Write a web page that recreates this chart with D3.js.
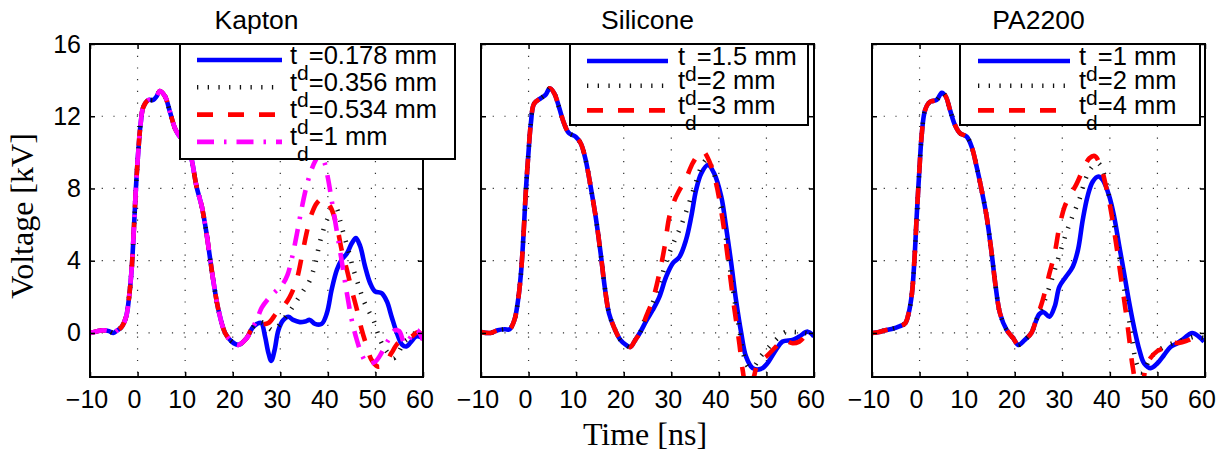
<!DOCTYPE html>
<html>
<head>
<meta charset="utf-8">
<script src="https://cdn.jsdelivr.net/npm/d3@7"></script>
<style>
  body { margin: 0; background: #fff; }
  svg { display: block; }
</style>
</head>
<body>
<svg id="fig" width="1225" height="455"></svg>
<script>
// ---- axis ticks ----
const xTicks = [-10, 0, 10, 20, 30, 40, 50, 60];
const yTicks = [0, 4, 8, 12, 16];

// ---- Kapton: shared main pulse, then each thickness' tail [t (ns), V (kV)] ----
const kaptonPulse = [[-10,0.0],[-8.5,0.1],[-7.2,0.15],[-6,0.1],[-5.1,0.0],[-4.2,0.15],[-3.3,0.35],[-2.4,0.9],[-1.7,2.2],[-1.2,3.7],[-0.75,5.9],[-0.33,8.1],[0.16,10.1],[0.65,11.6],[1.2,12.5],[2.26,12.9],[3.3,12.9],[4.0,13.1],[4.7,13.4],[5.77,13.1],[6.8,12.25],[7.87,11.33],[8.9,10.87],[10.0,10.7],[11.2,9.8],[12.4,8.1],[13.5,7.0],[14.5,5.5],[15.2,4.2],[15.9,2.93],[17.0,1.27],[18.4,0.0],[19.8,-0.48],[21.2,-0.66],[22.9,-0.3],[24.2,0.3]];
const kapton178 = [[25.1,0.5],[26.0,0.55],[26.8,-0.2],[27.5,-1.1],[28.1,-1.55],[28.8,-0.95],[29.6,0.15],[30.6,0.7],[31.7,0.9],[32.7,0.72],[34.1,0.6],[35.2,0.63],[36.2,0.72],[37.3,0.5],[38.7,0.5],[39.8,1.1],[40.8,2.4],[41.9,3.5],[42.9,4.05],[44.0,4.4],[45.0,4.95],[45.9,5.25],[46.8,4.8],[47.8,3.7],[48.9,2.75],[49.9,2.3],[51.3,2.2],[52.4,1.75],[53.4,0.9],[54.5,0.0],[55.6,-0.65],[56.5,-0.75],[57.6,-0.45],[58.5,-0.2],[59.2,-0.2],[60,-0.3]];
const kapton356 = [[25.5,0.6],[26.5,0.55],[27.5,0.3],[28.5,0.15],[29.5,0.35],[30.5,0.7],[32,1.2],[33.5,1.8],[35,2.4],[36.2,2.9],[37.3,3.8],[38.3,5.0],[39.3,5.9],[40.2,6.5],[41.0,7.0],[41.8,6.9],[42.5,6.3],[43.3,5.5],[44.4,4.5],[45.4,3.5],[46.5,2.6],[47.5,1.8],[48.6,1.2],[49.6,0.7],[51.0,-0.4],[52.3,-1.0],[53.8,-1.4],[55,-1.0],[56,-0.5],[57,-0.3],[58.5,0.0],[60,-0.2]];
const kapton534 = [[25.7,0.45],[27.5,0.55],[29.2,1.1],[30.6,1.45],[32.0,2.0],[33.4,2.9],[34.5,4.2],[35.5,5.5],[36.6,6.6],[37.7,7.2],[39.0,7.45],[40.5,7.0],[41.9,5.9],[42.9,4.6],[44.0,3.5],[45.0,2.4],[46.1,1.3],[47.1,0.2],[48.2,-0.75],[49.2,-1.5],[50.6,-1.87],[52.0,-1.7],[53.4,-1.1],[54.8,-0.55],[56.2,-0.4],[57.6,-0.2],[59,0.05],[60,-0.2]];
const kapton1000 = [[25.1,0.75],[26.1,1.4],[27.5,1.9],[29,2.3],[30.5,2.7],[31.5,3.2],[32.5,4.2],[33.5,5.5],[34.5,6.9],[35.5,8.1],[36.5,9.0],[37.5,9.6],[38.3,9.9],[39.2,9.5],[40.0,8.6],[40.8,7.35],[41.9,5.6],[42.9,4.0],[44.0,2.2],[45.0,0.75],[46.1,-0.4],[47.3,-1.3],[48.3,-1.68],[49.9,-1.6],[51.3,-1.1],[52.7,-0.4],[54.1,0.15],[55,0.1],[56.2,-0.6],[57.5,-0.2],[58.7,0.15],[60,-0.4]];
const kaptonLabels = ["0.178 mm", "0.356 mm", "0.534 mm", "1 mm"];

// ---- Silicone ----
const siliconePulse = [[-10,0.05],[-8,0.0],[-6.5,0.15],[-5,0.2],[-4,0.2],[-3.0,0.7],[-2.3,1.64],[-1.6,3.3],[-1.05,5.5],[-0.57,7.9],[-0.08,9.76],[0.48,11.6],[1.17,12.7],[2.6,13.0],[3.6,13.2],[4.46,13.55],[5.4,13.27],[6.4,12.5],[7.46,11.6],[8.5,11.06],[9.9,10.87],[10.96,10.5],[12.0,9.58],[13.05,8.1],[14.1,6.44],[15.15,4.41],[16.0,2.56],[16.9,1.09],[17.9,0.35],[19.3,-0.39],[20.4,-0.65],[21.4,-0.78],[22.4,-0.4],[23.5,0.05]];
const silicone15 = [[24.8,0.7],[26.1,1.27],[27.5,2.0],[28.9,3.1],[30.3,3.85],[31.7,4.2],[33.1,5.15],[34.2,6.44],[35.2,7.9],[36.3,8.84],[37.7,9.3],[39.0,8.84],[40.5,7.55],[41.5,5.9],[42.6,3.85],[43.6,1.83],[44.7,0.0],[45.7,-1.3],[47.1,-1.95],[48.8,-2.0],[50.2,-1.68],[52.0,-0.94],[53.4,-0.48],[55.5,-0.39],[56.9,-0.2],[58.7,0.07],[60,-0.2]];
const silicone20 = [[24.5,0.8],[26,1.6],[27.5,2.7],[29,4.0],[30.5,5.0],[32,5.9],[33.5,7.0],[35,8.2],[36.5,9.3],[37.5,9.6],[38.5,9.2],[39.5,8.3],[40.8,6.6],[42,4.2],[43.2,2.0],[44.3,0.2],[45.3,-1.3],[46.3,-1.9],[47.5,-1.8],[48.5,-1.4],[50.6,-0.76],[52.7,-0.2],[54.1,0.05],[56,0.05],[58,0.0],[60,-0.1]];
const silicone30 = [[24.7,0.9],[26.1,1.83],[27.5,3.3],[28.6,4.78],[29.6,6.44],[30.7,7.36],[31.7,7.9],[33.1,8.56],[34.5,9.4],[35.9,9.95],[36.7,10.05],[38.0,9.5],[39.4,8.3],[40.8,6.26],[42.2,3.5],[43.2,1.46],[44.3,-0.57],[45.0,-2.05],[45.8,-3.0],[46.6,-3.1],[47.4,-2.4],[48.2,-1.68],[50.0,-1.3],[52.0,-0.76],[53.4,-0.39],[55.5,-0.57],[56.9,-0.48],[58.5,-0.1],[60,0.1]];
const siliconeLabels = ["1.5 mm", "2 mm", "3 mm"];

// ---- PA2200 ----
const pa2200Pulse = [[-10,0.0],[-8.5,0.05],[-7.2,0.15],[-5.5,0.25],[-4.4,0.35],[-3.0,0.54],[-2.3,1.09],[-1.6,2.2],[-1.05,4.2],[-0.57,6.63],[-0.08,8.84],[0.48,11.06],[1.17,12.35],[2.2,12.8],[3.6,12.9],[4.67,13.3],[5.5,13.1],[6.4,12.35],[7.46,11.5],[8.5,11.06],[9.9,10.87],[10.96,10.3],[12.0,9.2],[13.05,7.9],[14.1,6.44],[15.15,4.41],[16.0,2.56],[16.9,1.09],[18.3,0.17],[19.7,-0.3],[20.75,-0.66],[22.1,-0.39],[23.5,0.0]];
const pa2200_10 = [[24.3,0.54],[25.2,1.05],[26.1,1.15],[27.3,0.9],[28.4,1.46],[29.4,2.56],[30.8,3.12],[32.2,3.67],[33.3,4.6],[34.3,6.26],[35.3,7.55],[36.4,8.38],[37.6,8.66],[38.5,8.47],[39.9,7.55],[40.9,6.44],[42.0,4.78],[43.0,3.3],[44.1,1.64],[45.2,0.17],[46.2,-0.94],[47.2,-1.68],[48.6,-1.95],[50.0,-1.68],[51.4,-1.22],[52.8,-0.76],[54.2,-0.57],[55.6,-0.3],[57.3,0.0],[58.7,-0.2],[59.8,-0.48]];
const pa2200_20 = [[24.5,0.7],[26,1.6],[27.5,2.7],[29,4.0],[30.8,5.5],[32.2,6.5],[33.6,7.4],[35.0,8.6],[36.3,9.2],[37.5,9.4],[38.5,9.0],[39.5,8.0],[40.5,6.6],[41.5,5.0],[42.5,3.4],[43.5,1.6],[44.5,0.0],[45.5,-1.6],[46.5,-2.2],[47.5,-1.9],[48.5,-1.4],[50,-1.0],[52,-0.7],[54,-0.5],[56,-0.35],[58,-0.2],[60,-0.3]];
const pa2200_40 = [[24.5,0.72],[25.9,1.83],[27.3,3.3],[28.4,4.41],[29.4,5.9],[30.5,7.0],[31.5,7.55],[32.9,8.2],[34.3,9.0],[35.7,9.67],[36.8,9.8],[38.1,9.2],[39.2,8.1],[40.2,6.8],[41.3,4.97],[42.3,3.12],[43.4,1.09],[44.1,-0.39],[44.8,-1.87],[45.6,-2.8],[46.6,-3.0],[47.5,-2.0],[48.5,-1.4],[50.0,-1.0],[51.5,-0.8],[52.5,-0.55],[54.5,-0.55],[56.5,-0.4],[58.5,-0.2],[60,-0.3]];
const pa2200Labels = ["1 mm", "2 mm", "4 mm"];

const titles = ["Kapton", "Silicone", "PA2200"];

// ---- line styles (drawing order: solid, dotted, dashed, dash-dot) ----
const styles = [
  { color: "#0000ff", dash: null,           width: 4.6 },
  { color: "#111111", dash: "1.3,9.4",      width: 4.6 },
  { color: "#ff0000", dash: "16,15",        width: 4.6 },
  { color: "#ff00ff", dash: "17,10,2.5,10", width: 4.6 }
];

const panels = [
  { title: titles[0], labels: kaptonLabels,
    series: [kaptonPulse.concat(kapton178), kaptonPulse.concat(kapton356), kaptonPulse.concat(kapton534), kaptonPulse.concat(kapton1000)],
    left: 90, legend: { x: 90, w: 275, h: 115, sx0: 107, sx1: 192, tx: 200, row0: 60, rowStep: 27.3 } },
  { title: titles[1], labels: siliconeLabels,
    series: [siliconePulse.concat(silicone15), siliconePulse.concat(silicone20), siliconePulse.concat(silicone30)],
    left: 481, legend: { x: 89, w: 238, h: 81, sx0: 106, sx1: 187, tx: 197, row0: 61, rowStep: 24.7 } },
  { title: titles[2], labels: pa2200Labels,
    series: [pa2200Pulse.concat(pa2200_10), pa2200Pulse.concat(pa2200_20), pa2200Pulse.concat(pa2200_40)],
    left: 872, legend: { x: 88, w: 240, h: 81, sx0: 106, sx1: 198, tx: 207, row0: 61, rowStep: 24.7 } }
];

const plotTop = 44, plotW = 333, plotH = 333;
const svg = d3.select("#fig");
svg.append("rect").attr("width", 1225).attr("height", 455).attr("fill", "#fff");

const x = d3.scaleLinear().domain([-10, 60]).range([0, plotW]);
const y = d3.scaleLinear().domain([-2.44, 16]).range([plotH, 0]);
const sans = "'Liberation Sans', Arial, Helvetica, sans-serif";
const serif = "'Liberation Serif', 'Times New Roman', serif";

panels.forEach((p, pi) => {
  const g = svg.append("g").attr("transform", `translate(${p.left},${plotTop})`);
  const clipId = "clip" + pi;
  g.append("clipPath").attr("id", clipId)
    .append("rect").attr("width", plotW).attr("height", plotH);

  // dotted grid
  const grid = g.append("g").attr("stroke", "#333").attr("stroke-width", 1.2)
    .attr("stroke-dasharray", "1.2,10.5");
  grid.selectAll(".gx").data(xTicks.slice(1, -1)).join("line")
    .attr("x1", d => x(d)).attr("x2", d => x(d)).attr("y1", 0).attr("y2", plotH);
  grid.selectAll(".gy").data(yTicks.filter(d => d < 16)).join("line")
    .attr("y1", d => y(d)).attr("y2", d => y(d)).attr("x1", 0).attr("x2", plotW);

  // curves
  const line = d3.line().x(d => x(d[0])).y(d => y(d[1])).curve(d3.curveCatmullRom.alpha(0.5));
  const curves = g.append("g").attr("clip-path", `url(#${clipId})`);
  p.series.forEach((s, i) => {
    const st = styles[i];
    curves.append("path").datum(s).attr("d", line)
      .attr("fill", "none").attr("stroke", st.color).attr("stroke-width", st.width)
      .attr("stroke-dasharray", st.dash).attr("stroke-linejoin", "round");
  });

  // axes: bottom labels, inward ticks on all sides
  const axB = d3.axisBottom(x).tickValues(xTicks).tickSizeInner(-5).tickSizeOuter(0)
    .tickPadding(13).tickFormat(d => d < 0 ? "\u2212" + Math.abs(d) : d);
  const gb = g.append("g").attr("transform", `translate(0,${plotH})`).call(axB);
  gb.selectAll("text").attr("font-family", sans).attr("font-size", 25).attr("fill", "#000")
    .attr("dx", -3.5);
  const axT = d3.axisTop(x).tickValues(xTicks).tickSizeInner(-5).tickSizeOuter(0).tickFormat("");
  g.append("g").call(axT);
  const axL = d3.axisLeft(y).tickValues(yTicks).tickSizeInner(-5).tickSizeOuter(0).tickPadding(9)
    .tickFormat(pi === 0 ? d3.format("d") : "");
  const gl = g.append("g").call(axL);
  gl.selectAll("text").attr("font-family", sans).attr("font-size", 25).attr("fill", "#000");
  const axR = d3.axisRight(y).tickValues(yTicks).tickSizeInner(-5).tickSizeOuter(0).tickFormat("");
  g.append("g").attr("transform", `translate(${plotW},0)`).call(axR);
  g.selectAll(".domain").remove();
  g.selectAll(".tick line").attr("stroke", "#000").attr("stroke-width", 1.5);

  // box
  g.append("rect").attr("width", plotW).attr("height", plotH)
    .attr("fill", "none").attr("stroke", "#000").attr("stroke-width", 2);

  // title
  g.append("text").attr("x", plotW / 2).attr("y", 29 - plotTop).attr("text-anchor", "middle")
    .attr("font-family", sans).attr("font-size", 26.5).attr("fill", "#000").text(p.title);

  // legend
  const L = p.legend;
  const lg = g.append("g");
  lg.append("rect").attr("x", L.x).attr("y", 0).attr("width", L.w).attr("height", L.h)
    .attr("fill", "#fff").attr("stroke", "#000").attr("stroke-width", 2);
  p.labels.forEach((lab, i) => {
    const st = styles[i];
    const ly = L.row0 + i * L.rowStep - plotTop;
    lg.append("line").attr("x1", L.sx0).attr("x2", L.sx1).attr("y1", ly).attr("y2", ly)
      .attr("stroke", st.color).attr("stroke-width", st.width).attr("stroke-dasharray", st.dash);
    const t = lg.append("text").attr("x", L.tx).attr("y", ly + 3.5)
      .attr("font-family", sans).attr("font-size", 25.5).attr("fill", "#000");
    t.append("tspan").text("t");
    t.append("tspan").attr("font-size", 21).attr("dy", 16).text("d");
    t.append("tspan").attr("dy", -16).text("=" + lab);
  });
});

// axis titles
svg.append("text").attr("x", 645).attr("y", 445).attr("text-anchor", "middle")
  .attr("font-family", serif).attr("font-size", 32).attr("fill", "#000").text("Time [ns]");
svg.append("text").attr("transform", "translate(33,216) rotate(-90)").attr("text-anchor", "middle")
  .attr("font-family", serif).attr("font-size", 32).attr("fill", "#000").text("Voltage [kV]");
</script>
</body>
</html>
